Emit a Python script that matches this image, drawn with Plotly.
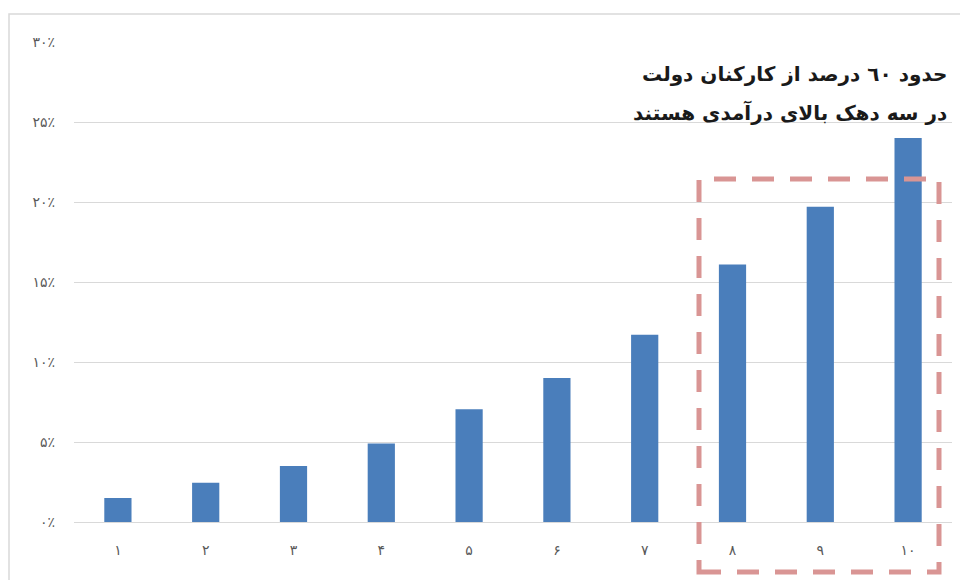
import plotly.graph_objects as go

categories = ["۱", "۲", "۳", "۴", "۵", "۶", "۷", "۸", "۹", "۱۰"]
shares = [1.5, 2.45, 3.5, 4.9, 7.05, 9.0, 11.7, 16.1, 19.7, 24.0]
y_tickvals = [0, 5, 10, 15, 20, 25, 30]
y_ticktext = ["۰٪", "۵٪", "۱۰٪", "۱۵٪", "۲۰٪", "۲۵٪", "۳۰٪"]
note_lines = ["حدود ٦٠ درصد از کارکنان دولت", "در سه دهک بالای درآمدی هستند"]

# page offset of the figure div (default body margin)
OX, OY = 8, 8
W, H = 960, 572
# plot area in page pixels: left 74, right 952, top 42, bottom 522
L = 74 - OX
T = 42 - OY
R = W - (952 - OX)
B = H - (522 - OY)
pw, ph = W - L - R, H - T - B

def px(xp):
    return (xp - OX - L) / pw

def py(yp):
    return (H - B - (yp - OY)) / ph

fig = go.Figure()
fig.add_trace(go.Bar(
    x=categories, y=shares,
    marker=dict(color="#4a7ebb", line=dict(width=0)),
    width=0.31,
))

fig.update_layout(
    width=W, height=H,
    margin=dict(l=L, r=R, t=T, b=B),
    paper_bgcolor="white", plot_bgcolor="white",
    showlegend=False,
    font=dict(family="DejaVu Sans, sans-serif", color="#595959"),
    xaxis=dict(
        type="category", showgrid=False, showline=False, ticks="",
        tickfont=dict(size=14, color="#595959"),
        ticklabelstandoff=18,
    ),
    yaxis=dict(
        range=[0, 30], tickvals=y_tickvals, ticktext=y_ticktext,
        showgrid=True, gridcolor="#d9d9d9", gridwidth=1,
        zeroline=True, zerolinecolor="#d9d9d9", zerolinewidth=1,
        showline=False, ticks="",
        tickfont=dict(size=14, color="#595959"),
        ticklabelstandoff=18,
    ),
    shapes=[
        dict(type="rect", xref="paper", yref="paper",
             x0=px(9), x1=px(990), y0=py(600), y1=py(14),
             line=dict(color="#d9d9d9", width=1.5), fillcolor="rgba(0,0,0,0)",
             layer="below"),
        dict(type="rect", xref="paper", yref="paper",
             x0=px(699), x1=px(939), y0=py(572), y1=py(179),
             line=dict(color="#d99594", width=5, dash="22px,16px"),
             fillcolor="rgba(0,0,0,0)", layer="above"),
    ],
    annotations=[
        dict(xref="paper", yref="paper", x=px(949), y=py(74),
             xanchor="right", yanchor="middle", align="right",
             text="<b>" + note_lines[0] + "</b>", showarrow=False,
             font=dict(size=20, color="#1a1a1a", family="DejaVu Sans, sans-serif")),
        dict(xref="paper", yref="paper", x=px(949), y=py(112),
             xanchor="right", yanchor="middle", align="right",
             text="<b>" + note_lines[1] + "</b>", showarrow=False,
             font=dict(size=20, color="#1a1a1a", family="DejaVu Sans, sans-serif")),
    ],
)

fig.write_html("out.html")
